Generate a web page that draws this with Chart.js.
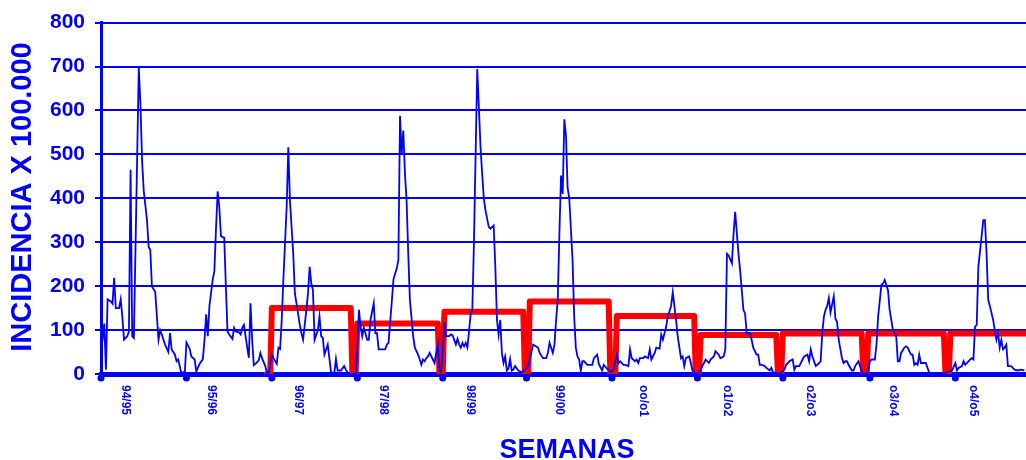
<!DOCTYPE html>
<html>
<head>
<meta charset="utf-8">
<script src="https://cdn.jsdelivr.net/npm/chart.js@4"></script>
<style>
  body { margin: 0; background: #fff; }
  #caja { width: 1026px; height: 460px; }
</style>
</head>
<body>
<div id="caja"><canvas id="grafico"></canvas></div>
<script>
// temporadas y semana (global) donde empieza cada una
const temporadas = ["94/95", "95/96", "96/97", "97/98", "98/99", "99/00", "oo/o1", "o1/o2", "o2/o3", "o3/o4", "o4/o5"];
const inicioTemporada = [0, 52, 104, 156, 208, 259, 311, 363, 415, 468, 520];
const semanaEtiqueta = [15, 67, 120, 172, 225, 279, 330, 381, 432, 482, 531];
const marcasY = [0, 100, 200, 300, 400, 500, 600, 700, 800];

// incidencia semanal [semana, valor]
const t9495 = [[0,78],[1,78],[2,115],[3,10],[4,170],[6,165],[7,160],[8,219],[9,150],[10,150],[11,150],[12,170],[13,130],[14,78],[16,86],[17,97],[18,465],[19,86],[20,82],[23,697],[24,614],[25,486],[26,418],[28,350],[29,289],[30,283],[31,199],[33,187],[35,78],[36,100],[37,90],[39,67],[41,50],[42,93],[43,56],[45,44],[46,29],[47,33],[49,0],[50,4]];
const t9596 = [[51,2],[52,72],[54,57],[55,40],[57,33],[58,6],[60,23],[62,34],[63,78],[64,136],[65,86],[66,155],[68,215],[69,234],[70,331],[71,416],[72,380],[73,314],[75,310],[76,199],[77,97],[78,90],[80,80],[81,105],[82,97],[84,95],[85,90],[86,105],[87,112],[89,60],[90,37],[91,161],[92,78],[93,20],[94,23],[96,31],[97,48],[98,36],[100,18],[101,2],[102,2]];
const t9697 = [[104,44],[105,36],[107,23],[108,60],[109,57],[110,123],[111,215],[113,380],[114,516],[115,395],[117,274],[118,184],[119,160],[121,112],[122,93],[123,78],[125,146],[126,184],[127,244],[128,206],[129,191],[130,78],[132,100],[133,131],[134,86],[135,82],[136,44],[138,67],[139,36],[140,4],[142,2],[143,34],[144,8],[146,8],[148,18],[149,10],[150,4],[152,0],[154,0]];
const t9798 = [[155,0],[156,60],[157,146],[158,108],[159,86],[160,105],[162,78],[163,78],[164,123],[166,161],[167,93],[168,93],[169,56],[171,56],[173,56],[174,67],[175,71],[177,165],[178,215],[179,228],[180,240],[181,260],[182,588],[183,501],[184,554],[185,455],[186,395],[187,274],[188,169],[190,86],[191,60],[193,44],[194,33],[195,21],[196,33],[197,29],[198,36],[199,40],[200,48],[202,33],[203,25],[204,48],[205,67],[206,8],[207,4]];
const t9899 = [[208,56],[209,119],[210,86],[212,86],[213,90],[214,88],[216,67],[217,80],[218,67],[219,60],[220,71],[221,63],[222,71],[223,60],[224,97],[225,138],[226,146],[227,300],[228,500],[229,694],[230,607],[231,516],[232,455],[233,400],[234,373],[236,335],[237,331],[239,338],[240,244],[241,123],[242,90],[243,123],[244,48],[245,25],[246,40],[247,8],[248,12],[249,34],[250,8],[251,10],[252,18],[254,8],[256,4],[258,8]];
const t9900 = [[260,18],[262,50],[263,67],[266,60],[267,48],[269,36],[271,36],[272,48],[273,71],[275,48],[276,67],[277,123],[278,169],[279,320],[280,452],[281,410],[282,580],[283,543],[284,424],[285,400],[286,330],[287,260],[288,131],[289,60],[290,40],[291,33],[292,8],[293,29],[294,29],[296,21],[297,21],[299,21],[300,36],[302,44],[303,23],[305,8],[306,21],[308,12],[309,10],[310,4]];
const t0001 = [[312,10],[314,44],[315,25],[316,29],[318,21],[319,21],[321,18],[322,56],[323,36],[325,29],[326,33],[327,25],[328,36],[330,36],[331,40],[333,36],[334,56],[335,33],[337,48],[338,60],[340,58],[341,90],[342,78],[344,108],[345,131],[347,155],[348,186],[349,155],[350,123],[351,86],[353,36],[354,40],[355,18],[356,36],[358,40],[359,25],[360,8],[362,0]];
const t0102 = [[364,4],[366,18],[367,25],[368,33],[370,25],[371,33],[373,40],[374,52],[376,44],[377,36],[379,40],[380,56],[381,274],[382,270],[384,252],[385,320],[386,369],[387,320],[388,274],[389,236],[390,191],[391,146],[392,138],[393,93],[395,93],[396,78],[397,60],[399,44],[400,44],[401,21],[402,21],[404,18],[405,14],[407,8],[408,14],[409,4],[411,2],[413,0]];
const t0203 = [[416,10],[417,21],[418,25],[419,29],[421,33],[422,10],[423,18],[425,18],[427,33],[428,40],[430,44],[431,29],[432,56],[433,40],[435,18],[436,21],[438,29],[439,93],[440,131],[441,146],[442,155],[443,173],[444,140],[446,177],[447,126],[448,119],[449,78],[451,36],[452,25],[453,29],[454,29],[455,21],[457,8],[458,8],[459,18],[461,29],[462,18],[463,4],[464,0],[466,0]];
const t0304 = [[467,8],[468,29],[469,33],[471,33],[472,67],[473,131],[475,203],[476,206],[477,214],[479,191],[480,146],[481,123],[482,100],[484,86],[485,29],[486,29],[487,48],[489,60],[490,63],[491,60],[493,44],[494,44],[495,21],[496,25],[497,21],[498,44],[499,25],[501,25],[502,25],[504,4],[505,0],[512,0],[518,8]];
const t0405 = [[520,25],[521,8],[522,14],[524,18],[525,29],[526,21],[528,29],[529,33],[530,36],[531,33],[532,108],[533,112],[534,244],[536,314],[537,350],[538,350],[539,274],[540,169],[541,155],[543,123],[544,100],[545,78],[546,93],[547,60],[548,78],[549,56],[550,60],[551,67],[552,18],[554,18],[555,14],[556,10],[558,8],[560,10],[562,8]];

// umbral epidemico por temporada (desde 96/97)
const umbralValor = [150, 115, 142, 165, 132, 89, 92, 92, 92];
const umbralDesde = [104, 156, 209, 261, 314, 365, 415, 467, 517];
const umbralHasta = [152, 205, 257, 309, 361, 411, 463, 513, 563];

const AZUL = "#0000FF";
const ROJO = "#FF0000";
const FUENTE = '"Liberation Sans", Arial, sans-serif';

const incidencia = [t9495, t9596, t9697, t9798, t9899, t9900, t0001, t0102, t0203, t0304, t0405]
  .flat()
  .map(([s, v]) => ({ x: s, y: v }));

const umbral = [{ x: 101, y: 0 }];
umbralValor.forEach((v, i) => {
  if (umbralDesde[i] - 1 > umbral[umbral.length - 1].x) umbral.push({ x: umbralDesde[i] - 1, y: 0 });
  umbral.push({ x: umbralDesde[i], y: v });
  umbral.push({ x: umbralHasta[i], y: v });
  if (i < umbralValor.length - 1) umbral.push({ x: umbralHasta[i] + 1, y: 0 });
});

const decoracion = {
  id: "decoracion",
  afterDraw(chart) {
    const { ctx, chartArea } = chart;
    const x = chart.scales.x;
    ctx.save();
    ctx.fillStyle = AZUL;

    inicioTemporada.forEach((s) => {
      ctx.beginPath();
      ctx.arc(x.getPixelForValue(s), chartArea.bottom + 4, 3.5, 0, Math.PI * 2);
      ctx.fill();
    });

    ctx.font = "bold 12px " + FUENTE;
    ctx.textAlign = "left";
    ctx.textBaseline = "middle";
    temporadas.forEach((t, i) => {
      ctx.save();
      ctx.translate(x.getPixelForValue(semanaEtiqueta[i]), chartArea.bottom + 11);
      ctx.rotate(Math.PI / 2);
      ctx.fillText(t, 0, 0);
      ctx.restore();
    });

    ctx.font = "bold 29px " + FUENTE;
    ctx.textAlign = "center";
    ctx.save();
    ctx.translate(23, 197);
    ctx.rotate(-Math.PI / 2);
    ctx.fillText("INCIDENCIA X 100.000", 0, 0);
    ctx.restore();

    ctx.font = "bold 27px " + FUENTE;
    ctx.textBaseline = "alphabetic";
    ctx.fillText("SEMANAS", 567, 458);
    ctx.restore();
  },
};

new Chart(document.getElementById("grafico"), {
  type: "line",
  data: {
    datasets: [
      {
        label: "Incidencia",
        data: incidencia,
        borderColor: AZUL,
        borderWidth: 1.8,
        pointRadius: 0,
        tension: 0,
      },
      {
        label: "Umbral",
        data: umbral,
        borderColor: ROJO,
        borderWidth: 6,
        borderCapStyle: "round",
        borderJoinStyle: "round",
        pointRadius: 0,
        tension: 0,
      },
    ],
  },
  options: {
    responsive: true,
    maintainAspectRatio: false,
    animation: false,
    layout: { padding: { top: 21, right: 0, bottom: 0, left: 0 } },
    plugins: { legend: { display: false }, tooltip: { enabled: false } },
    scales: {
      x: {
        type: "linear",
        min: 0,
        max: 563,
        grid: { display: false },
        border: { display: true, color: AZUL, width: 5 },
        ticks: { display: false },
        afterFit: (s) => { s.height = 86; },
      },
      y: {
        min: 0,
        max: 800,
        afterBuildTicks: (s) => { s.ticks = marcasY.map((v) => ({ value: v })); },
        grid: { color: AZUL, lineWidth: 2, tickLength: 6 },
        border: { color: AZUL, width: 3 },
        ticks: {
          color: AZUL,
          padding: 10,
          font: { family: FUENTE, size: 21, weight: "bold" },
        },
        afterFit: (s) => { s.width = 101; },
      },
    },
  },
  plugins: [decoracion],
});
</script>
</body>
</html>
